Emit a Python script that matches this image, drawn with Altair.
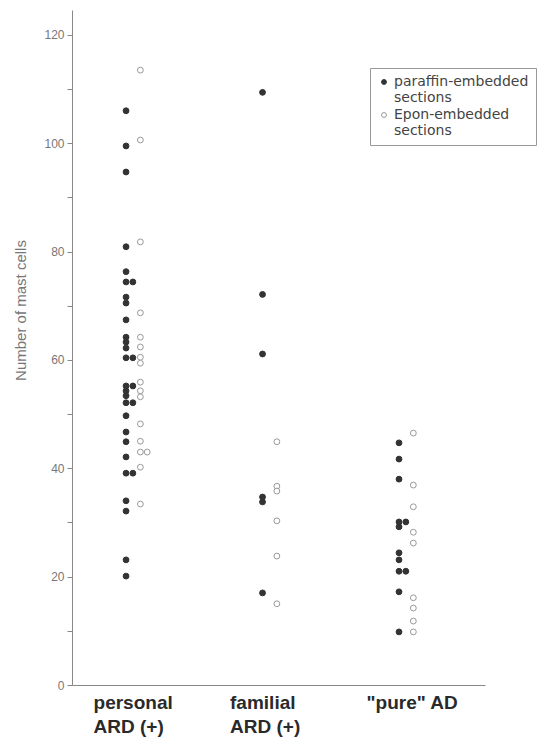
import altair as alt
import pandas as pd

categories = ["personal|ARD (+)", "familial|ARD (+)", "\"pure\" AD"]
types = ["paraffin-embedded|sections", "Epon-embedded|sections"]

personal_paraffin = [106, 99.5, 94.7, 80.9, 76.3, 74.4, 74.4, 71.6, 70.5, 67.4, 64.2, 63.3,
                     62.2, 60.4, 60.4, 55.2, 55.2, 54.3, 53.4, 52.1, 52.1, 49.7, 46.7, 44.9,
                     42.1, 39.1, 39.1, 34.0, 32.1, 23.1, 20.1]
personal_epon = [113.5, 100.6, 81.8, 68.7, 64.2, 62.4, 60.5, 59.4, 55.9, 54.3, 53.2, 48.2,
                 45.0, 43.0, 43.0, 40.2, 33.4]
familial_paraffin = [109.4, 72.1, 61.1, 34.7, 33.8, 17.0]
familial_epon = [44.9, 36.7, 35.8, 30.3, 23.8, 15.0]
pure_paraffin = [44.7, 41.7, 38.0, 30.1, 30.1, 29.2, 24.4, 23.1, 21.0, 21.0, 17.2, 9.8]
pure_epon = [46.5, 36.9, 32.9, 28.2, 26.2, 16.1, 14.2, 11.8, 9.8]

groups = [
    (1, 0, personal_paraffin), (1, 1, personal_epon),
    (2, 0, familial_paraffin), (2, 1, familial_epon),
    (3, 0, pure_paraffin), (3, 1, pure_epon),
]
rows = []
for cat, t, vals in groups:
    seen = {}
    for v in vals:
        n = seen.get(v, 0)
        seen[v] = n + 1
        rows.append({"pos": cat + 0.105 * t + 0.05 * n, "value": v, "type": types[t]})
df = pd.DataFrame(rows)

label_expr = " : ".join(
    f"datum.value == {i + 1} ? split('{c}', '|')" for i, c in enumerate(categories)
) + " : ''"

y_ticks = list(range(0, 121, 10))

legend = alt.Legend(title=None, orient="none", legendX=298, legendY=58,
                    labelExpr="split(datum.label, '|')",
                    labelFont="DejaVu Sans", labelFontSize=14,
                    labelColor="#444", strokeColor="#999", padding=7,
                    symbolSize=24, symbolStrokeWidth=1, rowPadding=3, labelLimit=300,
                    labelOffset=3)

chart = alt.Chart(df).mark_point(shape="circle", filled=False, opacity=1, size=34,
                                 strokeWidth=1).encode(
    x=alt.X("pos:Q", scale=alt.Scale(domain=[0.604, 3.63], nice=False, zero=False),
            axis=alt.Axis(values=[1, 2, 3], labelExpr=label_expr, title=None, grid=False,
                          ticks=False, domainColor="#888", domainWidth=1.2,
                          labelAlign="left", labelOffset=-33, labelPadding=8,
                          labelFont="Liberation Sans", labelFontWeight="bold",
                          labelFontSize=19, labelColor="#2a2a2a", labelLineHeight=24)),
    y=alt.Y("value:Q", scale=alt.Scale(domain=[0, 124.6], nice=False),
            axis=alt.Axis(values=y_ticks, labelExpr="datum.value % 20 == 0 ? datum.label : ''",
                          title="Number of mast cells", grid=False, tickSize=5,
                          tickColor="#888", domainColor="#888", labelColor="#777",
                          labelFont="Liberation Sans", labelFontSize=12, labelPadding=3,
                          titleFont="Liberation Sans", titleFontSize=15, titleFontWeight="normal",
                          titleColor="#777", titleX=-44, titleY=300, titleAngle=-90)),
    fill=alt.Fill("type:N", scale=alt.Scale(domain=types, range=["#333333", "white"]),
                  legend=legend),
    stroke=alt.Stroke("type:N", scale=alt.Scale(domain=types, range=["#333333", "#999999"]),
                      legend=legend),
).properties(
    width=413, height=675,
    autosize=alt.AutoSizeParams(type="none"),
    padding={"left": 64, "top": 2, "right": 56, "bottom": 54},
).configure_view(stroke=None)

chart.save("out.html", embed_options={"renderer": "svg", "actions": False})
